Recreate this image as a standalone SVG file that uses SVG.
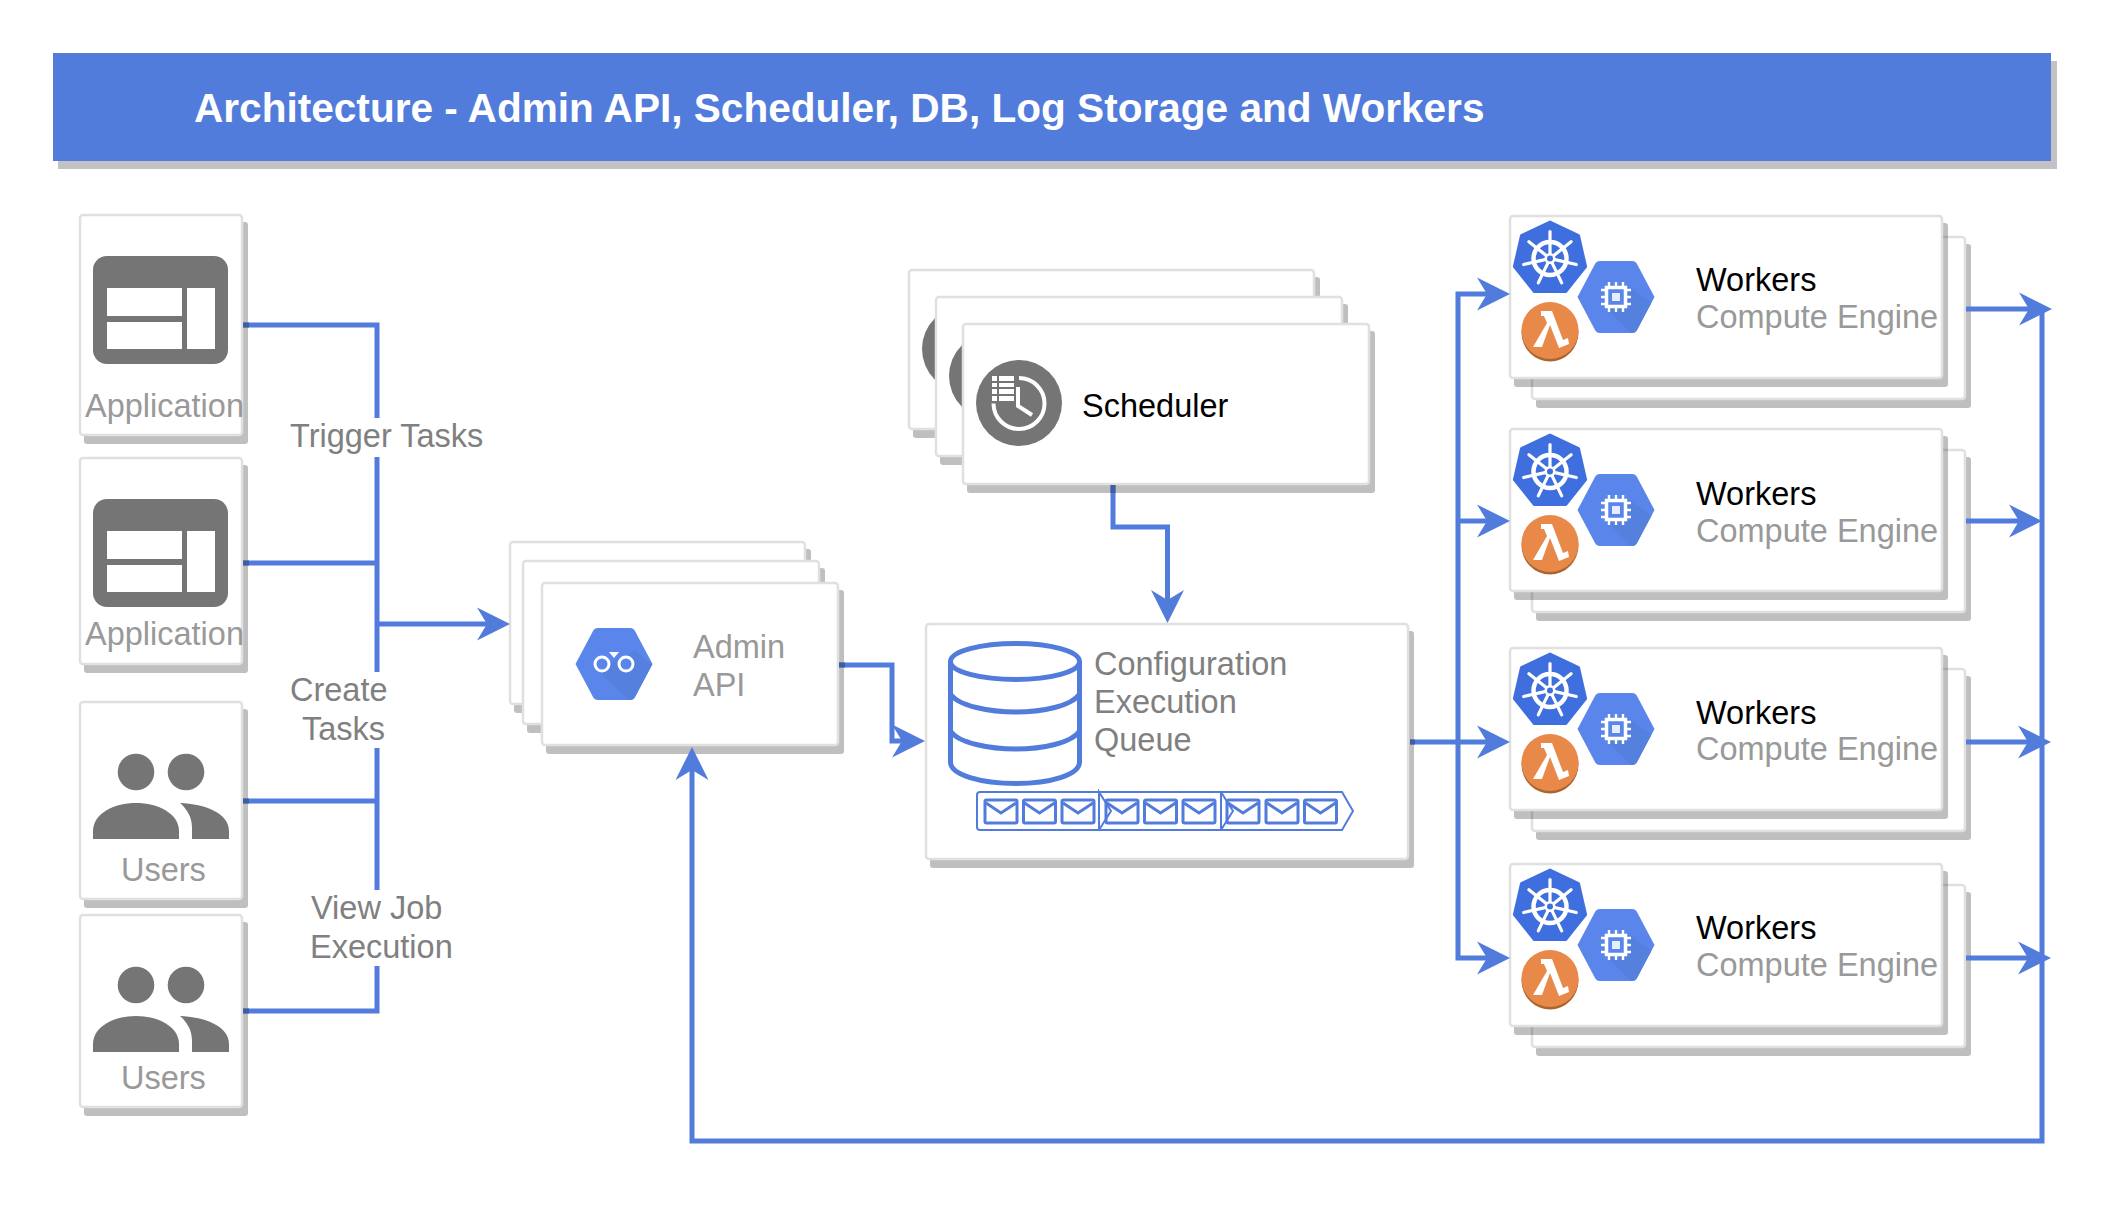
<svg xmlns="http://www.w3.org/2000/svg" width="2112" height="1232" viewBox="0 0 2112 1232">
<style>
text{font-family:"Liberation Sans",Arial,sans-serif;font-size:32.5px}
.card{fill:#fff;stroke:#e0e0e0;stroke-width:2.5}
.shadow{fill:#000;fill-opacity:.25}
.lbl{fill:#808080}
.sub{fill:#999}
.blk{fill:#000}
.conn{fill:none;stroke:#527cdb;stroke-width:5;stroke-linejoin:miter}
.arr{marker-end:url(#arrow)}
.stub{fill:none;stroke:#3e5da4;stroke-width:5}
.q{fill:none;stroke:#527cdb;stroke-width:2}
.cyl{fill:none;stroke:#527cdb;stroke-width:5}
.env{fill:none;stroke:#527cdb;stroke-width:3}
.ico{fill:#757575}
</style>
<defs>
<marker id="arrow" viewBox="0 -17 33 34" markerUnits="userSpaceOnUse" markerWidth="33" markerHeight="34" refX="10" refY="0" orient="auto">
<path d="M0 -16.5L33 0L0 16.5L10 0Z" fill="#527cdb"/>
</marker>
<clipPath id="hexclip"><path id="hexshape" d="M-38.500 0L-21 -33Q-19.500 -36 -16 -36H16Q19.500 -36 21 -33L38.500 0L21 33Q19.500 36 16 36H-16Q-19.500 36 -21 33Z"/></clipPath>
<g id="appicon">
<rect x="0" y="0" width="135" height="108" rx="14" class="ico"/>
<path d="M14 32H89V60H14ZM14 66H89V93H14ZM94 32H122V93H94Z" fill="#fff"/>
</g>
<g id="usersicon">
<circle cx="136" cy="771" r="18.300" class="ico"/>
<circle cx="186" cy="771" r="18.300" class="ico"/>
<path class="ico" d="M93 838V830C93 812 115 802 136 802C157 802 179 812 179 830V838Z"/>
<path class="ico" d="M180 802C205 803 229 812 229 830V838H192V827C192 816 187 808 180 802Z"/>
</g>
<g id="hexbase">
<path d="M-38.500 0L-21 -33Q-19.500 -36 -16 -36H16Q19.500 -36 21 -33L38.500 0L21 33Q19.500 36 16 36H-16Q-19.500 36 -21 33Z" fill="#5a86ec"/>
</g>
<g id="computeicon">
<use href="#hexbase"/>
<path clip-path="url(#hexclip)" d="M-10 11L16 37H24L39 8L11 -12V11Z" fill="#5580dd"/>
<rect x="-9.500" y="-9.500" width="19" height="19" fill="none" stroke="#fff" stroke-width="3.500"/>
<rect x="-4" y="-4" width="8" height="8" fill="#e6edfc"/>
<path d="M-7 -15V-11M0 -15V-11M7 -15V-11M-7 11V15M0 11V15M7 11V15M-15 -7H-11M-15 0H-11M-15 7H-11M11 -7H15M11 0H15M11 7H15" stroke="#fff" stroke-width="2.400" fill="none"/>
</g>
<g id="k8sicon">
<path d="M0 -36.500L28.500 -22.800L35.600 8.100L15.900 32.900H-15.900L-35.600 8.100L-28.500 -22.800Z" fill="#3f6fde" stroke="#3f6fde" stroke-width="3" stroke-linejoin="round"/>
<circle r="16.500" fill="none" stroke="#fff" stroke-width="4.500"/>
<g stroke="#fff" stroke-width="3.200" stroke-linecap="round">
<path id="spoke" d="M0 -4V-27"/>
<path transform="rotate(51.430)" d="M0 -4V-27"/>
<path transform="rotate(102.860)" d="M0 -4V-27"/>
<path transform="rotate(154.290)" d="M0 -4V-27"/>
<path transform="rotate(205.710)" d="M0 -4V-27"/>
<path transform="rotate(257.140)" d="M0 -4V-27"/>
<path transform="rotate(308.570)" d="M0 -4V-27"/>
</g>
<circle r="5.500" fill="#fff"/>
<circle r="3" fill="#3f6fde"/>
</g>
<g id="lambdaicon">
<ellipse cx="0" cy="1.500" rx="28.500" ry="29" fill="#a9652f"/>
<ellipse cx="0" cy="-0.500" rx="28.500" ry="28.500" fill="#e8894a"/>
<path d="M-9 -20H2L13 9L18 7L19 13L9 17L0 -6L-8 16H-17L-3 -8L-6 -15H-9Z" fill="#fff"/>
</g>
<g id="schedicon">
<circle r="43" class="ico"/>
</g>
<g id="envelope">
<rect x="0" y="0" width="32" height="23" rx="1.500" class="env"/>
<path d="M1 3L16 13L31 3" class="env"/>
</g>
</defs>

<g id="title">
<rect x="58" y="61" width="1999" height="108" fill="#c2c2c2"/>
<rect x="53" y="53" width="1998" height="108" fill="#527cdb"/>
<text x="194" y="122" fill="#fff" font-weight="bold" style="font-size:40.600px">Architecture - Admin API, Scheduler, DB, Log Storage and Workers</text>
</g>

<g id="app-1">
<rect class="shadow" x="84" y="222" width="164" height="222" rx="3"/>
<rect class="card" x="80" y="215" width="162" height="220" rx="3"/>
<use href="#appicon" x="93" y="256"/>
<text class="sub" x="85" y="417">Application</text>
</g>
<g id="app-2">
<rect class="shadow" x="84" y="465" width="164" height="208" rx="3"/>
<rect class="card" x="80" y="458" width="162" height="206" rx="3"/>
<use href="#appicon" x="93" y="499"/>
<text class="sub" x="85" y="645">Application</text>
</g>
<g id="users-1">
<rect class="shadow" x="84" y="709" width="164" height="199" rx="3"/>
<rect class="card" x="80" y="702" width="162" height="197" rx="3"/>
<use href="#usersicon" y="1"/>
<text class="sub" x="121" y="881">Users</text>
</g>
<g id="users-2">
<rect class="shadow" x="84" y="922" width="164" height="194" rx="3"/>
<rect class="card" x="80" y="915" width="162" height="192" rx="3"/>
<use href="#usersicon" y="214"/>
<text class="sub" x="121" y="1089">Users</text>
</g>

<g id="admin-api">
<rect class="shadow" x="514" y="549" width="297" height="164" rx="3"/>
<rect class="card" x="510" y="542" width="295" height="162" rx="3"/>
<rect class="shadow" x="527" y="568" width="298" height="165" rx="3"/>
<rect class="card" x="523" y="561" width="296" height="163" rx="3"/>
<rect class="shadow" x="546" y="590" width="298" height="164" rx="3"/>
<rect class="card" x="542" y="583" width="296" height="162" rx="3"/>
<g transform="translate(614,664)">
<use href="#hexbase"/>
<path clip-path="url(#hexclip)" d="M-17 5L15 37H23L40 2L21 -13Z" fill="#5580dd"/>
<circle cx="-12" cy="0" r="7" fill="#5a86ec" stroke="#fff" stroke-width="3"/>
<circle cx="12" cy="0" r="7" fill="#5a86ec" stroke="#fff" stroke-width="3"/>
<path d="M-5 -12H5L0 -6Z" fill="#fff"/>
</g>
<text class="sub" x="693" y="658">Admin</text>
<text class="sub" x="693" y="696">API</text>
</g>

<g id="scheduler">
<rect class="shadow" x="913" y="277" width="407" height="161" rx="3"/>
<rect class="card" x="909" y="270" width="405" height="159" rx="3"/>
<use href="#schedicon" x="965" y="349"/>
<rect class="shadow" x="940" y="304" width="408" height="161" rx="3"/>
<rect class="card" x="936" y="297" width="406" height="159" rx="3"/>
<use href="#schedicon" x="992" y="376"/>
<rect class="shadow" x="967" y="331" width="408" height="162" rx="3"/>
<rect class="card" x="963" y="324" width="406" height="160" rx="3"/>
<use href="#schedicon" x="1019" y="403"/>
<path d="M1019 378A25.500 25.500 0 1 1 993.500 403.500" fill="none" stroke="#fff" stroke-width="4"/>
<path d="M1018 387V406L1032 415" fill="none" stroke="#fff" stroke-width="4"/>
<path fill="#fff" d="M992 376h5v5h-5zM999 376h15v5h-15zM992 383h5v4h-5zM999 383h15v4h-15zM992 389h5v5h-5zM999 389h15v5h-15zM992 396h5v5h-5zM999 396h15v5h-15z"/>
<text class="blk" x="1082" y="417">Scheduler</text>
</g>

<g id="queue">
<rect class="shadow" x="930" y="631" width="484" height="237" rx="3"/>
<rect class="card" x="926" y="624" width="482" height="235" rx="3"/>
<path class="cyl" d="M950.500 661.500C950.500 651 981 643.500 1016 643.500C1050 643.500 1079.500 651 1079.500 661.500C1079.500 672 1050 679.500 1016 679.500C981 679.500 950.500 672 950.500 661.500V762C950.500 775 981 783.500 1016 783.500C1050 783.500 1079.500 775 1079.500 762V661.500"/>
<path class="cyl" d="M950.500 694C958 706 990 712 1016 712C1042 712 1072 706 1079.500 694M950.500 731C958 743 990 749 1016 749C1042 749 1072 743 1079.500 731"/>
<path class="q" d="M1099 792H980Q977 792 977 795V827Q977 830 980 830H1099V792L1111 811L1099 830"/>
<path class="q" d="M1099 792H1221V830H1099M1221 792L1233 811L1221 830"/>
<path class="q" d="M1221 792H1342L1353 811L1342 830H1221"/>
<use href="#envelope" x="985" y="800"/><use href="#envelope" x="1023.500" y="800"/><use href="#envelope" x="1062" y="800"/>
<use href="#envelope" x="1106" y="800"/><use href="#envelope" x="1144.500" y="800"/><use href="#envelope" x="1183" y="800"/>
<use href="#envelope" x="1227" y="800"/><use href="#envelope" x="1266" y="800"/><use href="#envelope" x="1304.500" y="800"/>
<text class="lbl" x="1094" y="675">Configuration</text>
<text class="lbl" x="1094" y="713">Execution</text>
<text class="lbl" x="1094" y="751">Queue</text>
</g>

<g id="worker-1">
<rect class="shadow" x="1536" y="244" width="435" height="164" rx="3"/>
<rect class="card" x="1532" y="237" width="433" height="162" rx="3"/>
<rect class="shadow" x="1514" y="223" width="434" height="164" rx="3"/>
<rect class="card" x="1510" y="216" width="432" height="162" rx="3"/>
<use href="#k8sicon" x="1550" y="258.500"/>
<use href="#computeicon" x="1616" y="297"/>
<use href="#lambdaicon" x="1550" y="331"/>
<text class="blk" x="1696" y="291">Workers</text>
<text class="sub" x="1696" y="328">Compute Engine</text>
</g>
<g id="worker-2">
<rect class="shadow" x="1536" y="457" width="435" height="164" rx="3"/>
<rect class="card" x="1532" y="450" width="433" height="162" rx="3"/>
<rect class="shadow" x="1514" y="436" width="434" height="164" rx="3"/>
<rect class="card" x="1510" y="429" width="432" height="162" rx="3"/>
<use href="#k8sicon" x="1550" y="471.500"/>
<use href="#computeicon" x="1616" y="510"/>
<use href="#lambdaicon" x="1550" y="544"/>
<text class="blk" x="1696" y="505">Workers</text>
<text class="sub" x="1696" y="542">Compute Engine</text>
</g>
<g id="worker-3">
<rect class="shadow" x="1536" y="676" width="435" height="164" rx="3"/>
<rect class="card" x="1532" y="669" width="433" height="162" rx="3"/>
<rect class="shadow" x="1514" y="655" width="434" height="164" rx="3"/>
<rect class="card" x="1510" y="648" width="432" height="162" rx="3"/>
<use href="#k8sicon" x="1550" y="690.500"/>
<use href="#computeicon" x="1616" y="729"/>
<use href="#lambdaicon" x="1550" y="763"/>
<text class="blk" x="1696" y="724">Workers</text>
<text class="sub" x="1696" y="760">Compute Engine</text>
</g>
<g id="worker-4">
<rect class="shadow" x="1536" y="892" width="435" height="164" rx="3"/>
<rect class="card" x="1532" y="885" width="433" height="162" rx="3"/>
<rect class="shadow" x="1514" y="871" width="434" height="164" rx="3"/>
<rect class="card" x="1510" y="864" width="432" height="162" rx="3"/>
<use href="#k8sicon" x="1550" y="906.500"/>
<use href="#computeicon" x="1616" y="945"/>
<use href="#lambdaicon" x="1550" y="979"/>
<text class="blk" x="1696" y="939">Workers</text>
<text class="sub" x="1696" y="976">Compute Engine</text>
</g>

<g id="connectors">
<path class="conn" d="M243 325H377V418M377 457V672M243 563H377M377 748V890M243 801H377M377 966V1011H243"/>
<path class="conn arr" d="M377 624H487"/>
<path class="conn arr" d="M839 665H892V741H902"/>
<path class="conn arr" d="M1113 485V527H1167.500V600"/>
<path class="conn arr" d="M1410 742H1487"/>
<path class="conn arr" d="M1458 742V294H1487"/>
<path class="conn arr" d="M1458 521H1487"/>
<path class="conn arr" d="M1458 742V958H1487"/>
<path class="conn arr" d="M1966 309H2029"/>
<path class="conn arr" d="M1966 521H2019"/>
<path class="conn arr" d="M1966 742H2028"/>
<path class="conn arr" d="M1966 958H2028"/>
<path class="conn arr" d="M2042 309V1141H692V770"/>
<path class="stub" d="M243 325H249M243 563H249M243 801H249M243 1011H249M839 665H845M1113 485V493M1410 742H1415"/>
</g>

<g id="labels">
<text class="lbl" x="290" y="447">Trigger Tasks</text>
<text class="lbl" x="290" y="701">Create</text>
<text class="lbl" x="302" y="740">Tasks</text>
<text class="lbl" x="311" y="919">View Job</text>
<text class="lbl" x="310" y="958">Execution</text>
</g>
</svg>
